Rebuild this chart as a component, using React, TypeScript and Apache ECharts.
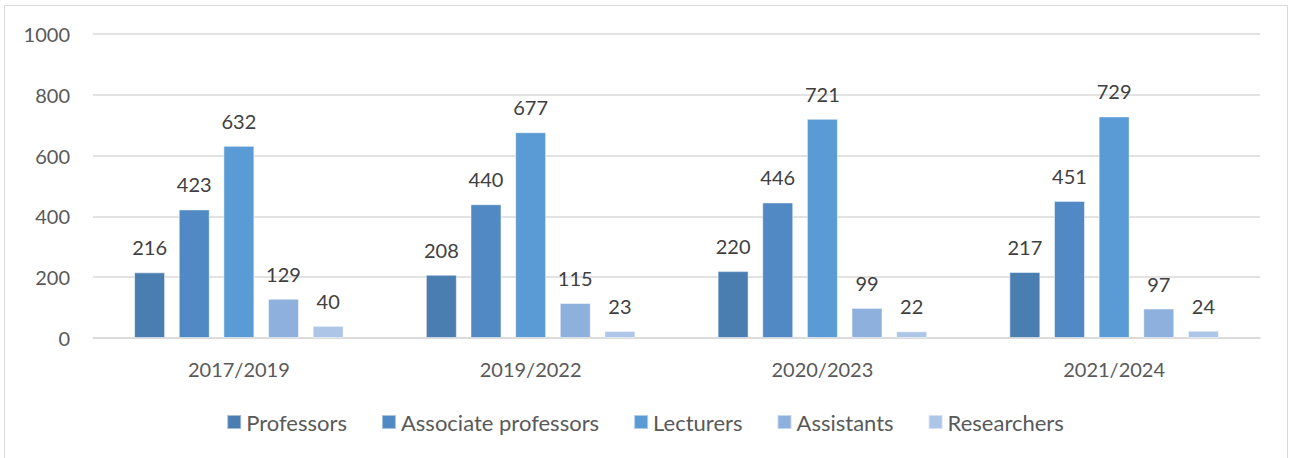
import React, { useEffect, useRef } from "react";
import * as echarts from "echarts";

const categories = ["2017/2019", "2019/2022", "2020/2023", "2021/2024"];
const seriesNames = ["Professors", "Associate professors", "Lecturers", "Assistants", "Researchers"];
const professors = [216, 208, 220, 217];
const associateProfessors = [423, 440, 446, 451];
const lecturers = [632, 677, 721, 729];
const assistants = [129, 115, 99, 97];
const researchers = [40, 23, 22, 24];
const yTicks = [0, 200, 400, 600, 800, 1000];

const colors = ["#4A7EB1", "#5089C3", "#5B9BD5", "#8DB0DD", "#ADC5E7"];

export default function App() {
  const ref = useRef<HTMLDivElement>(null);
  useEffect(() => {
    document.body.style.margin = "0";
    const chart = echarts.init(ref.current!, undefined, { renderer: "svg" });
    const values = [professors, associateProfessors, lecturers, assistants, researchers];
    const font = "Lato, 'Open Sans', sans-serif";
    chart.setOption({
      animation: false,
      textStyle: { fontFamily: font },
      graphic: [
        {
          type: "rect",
          shape: { x: 4.5, y: 5.5, width: 1283, height: 470 },
          style: { fill: "none", stroke: "#D9D9D9", lineWidth: 1 },
          silent: true,
        },
      ],
      grid: { left: 93, right: 30, top: 34, bottom: 120, containLabel: false },
      legend: {
        data: seriesNames,
        top: 406,
        left: "center",
        itemWidth: 14,
        itemHeight: 14,
        itemGap: 34,
        icon: "rect",
        textStyle: { color: "#595959", fontSize: 22, fontFamily: font },
      },
      xAxis: {
        type: "category",
        data: categories,
        axisLine: { lineStyle: { color: "#D9D9D9", width: 1.5 } },
        axisTick: { show: false },
        axisLabel: { color: "#595959", fontSize: 20, margin: 21, fontFamily: font },
      },
      yAxis: {
        type: "value",
        min: yTicks[0],
        max: yTicks[yTicks.length - 1],
        interval: 200,
        axisLine: { show: false },
        axisTick: { show: false },
        axisLabel: {
          color: "#595959",
          fontSize: 20,
          margin: 23,
          fontFamily: font,
          formatter: (v: number) => String(v),
        },
        splitLine: { lineStyle: { color: "#D9D9D9", width: 1.5 } },
      },
      series: seriesNames.map((name, i) => ({
        name,
        type: "bar",
        data: values[i],
        barWidth: 31,
        barGap: "44%",
        itemStyle: { color: colors[i], borderColor: "rgba(255,255,255,0.5)", borderWidth: 1 },
        label: {
          show: true,
          position: "top",
          distance: 15,
          color: "#404040",
          fontSize: 20,
          fontFamily: font,
        },
      })),
    });
    return () => chart.dispose();
  }, []);
  return <div ref={ref} style={{ width: 1290, height: 458 }} />;
}
